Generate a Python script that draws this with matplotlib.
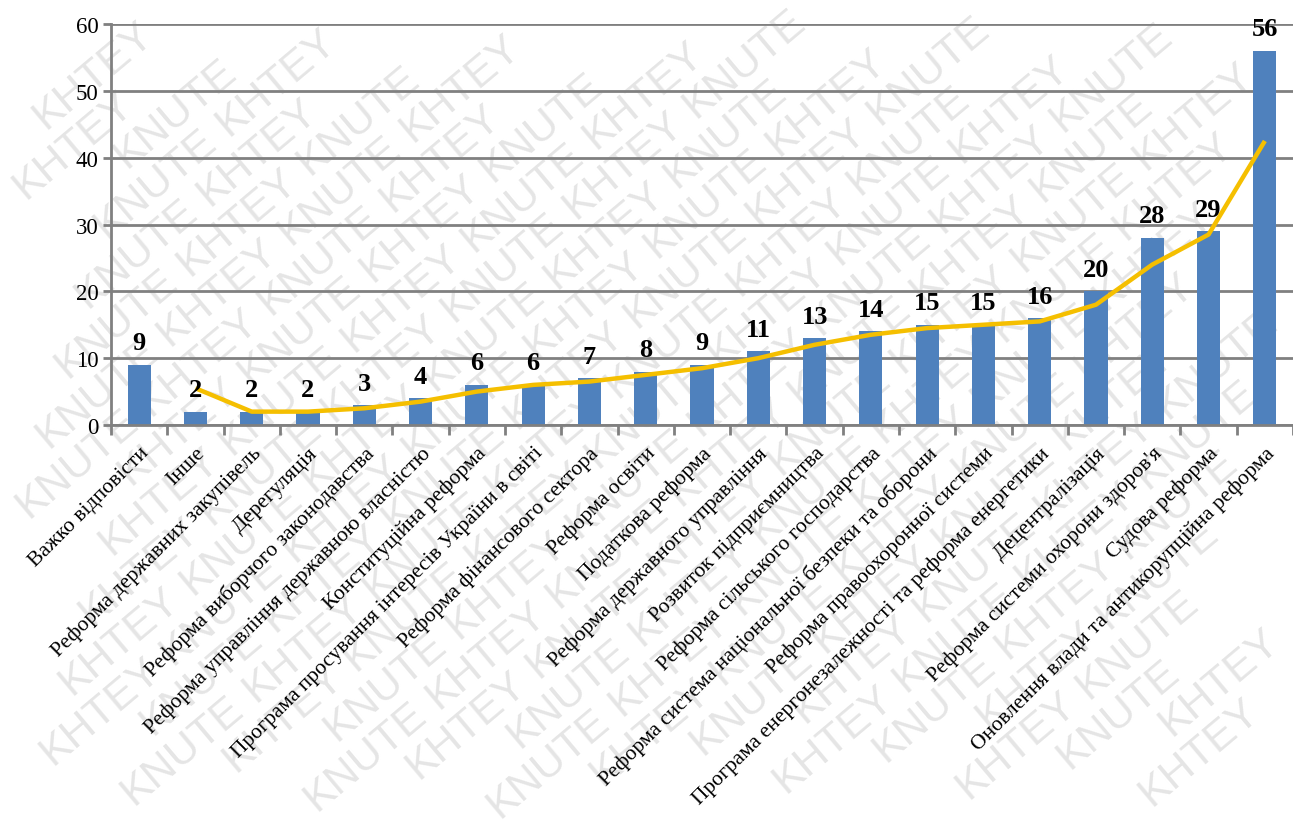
import matplotlib
matplotlib.use('Agg')
import matplotlib.pyplot as plt
import numpy as np

reforms = ['Важко відповісти', 'Інше', 'Реформа державних закупівель', 'Дерегуляція',
           'Реформа виборчого законодавства', 'Реформа управління державною власністю',
           'Конституційна реформа', 'Програма просування інтересів України в світі',
           'Реформа фінансового сектора', 'Реформа освіти', 'Податкова реформа',
           'Реформа державного управління', 'Розвиток підприємництва',
           'Реформа сільського господарства',
           'Реформа система національної безпеки та оборони',
           'Реформа правоохоронної системи',
           'Програма енергонезалежності та реформа енергетики', 'Децентралізація',
           "Реформа системи охорони здоров'я", 'Судова реформа',
           'Оновлення влади та антикорупційна реформа']
votes = [9, 2, 2, 2, 3, 4, 6, 6, 7, 8, 9, 11, 13, 14, 15, 15, 16, 20, 28, 29, 56]
# yellow trend line, starts from the second category
trend = [5.5, 2, 2, 2.5, 3.5, 5, 6, 6.5, 7.5, 8.5, 10, 12, 13.5, 14.5, 15, 15.5,
         18, 24, 28.5, 42.5]
yticks = [0, 10, 20, 30, 40, 50, 60]
marks = ['KNUTE', 'KHTEY']

plt.rcParams['font.family'] = ['Liberation Serif', 'DejaVu Serif']

W, H = 1293, 828
fig = plt.figure(figsize=(W / 100, H / 100), dpi=100)

# watermark: words on diagonal rows, keep only those that fit in the picture
ang_deg = 40
ang = np.deg2rad(ang_deg)
d = np.array([np.cos(ang), np.sin(ang)])
nrm = np.array([-np.sin(ang), np.cos(ang)])
pitch, gap = 158, 41
renderer = fig.canvas.get_renderer()
for r in range(-40, 40):
    for c in range(-14, 16):
        px, py = d * (c * pitch + r * 60) + nrm * r * gap + np.array([W / 2, H / 2])
        if not (-150 < px < W + 150 and -150 < py < H + 150):
            continue
        t = fig.text(px / W, py / H, marks[c % 2], rotation=ang_deg,
                     fontsize=31, color='#e5e5e5', ha='center', va='center',
                     rotation_mode='anchor', zorder=-5, family='Liberation Sans')
        bb = t.get_window_extent(renderer)
        if bb.x0 < 0 or bb.y0 < 0 or bb.x1 > W or bb.y1 > H:
            t.remove()

ax = fig.add_axes([111 / W, (H - 426) / H, (W - 111) / W, 401 / H])
ax.patch.set_alpha(0)

x = np.arange(len(reforms))
ax.bar(x, votes, width=0.41, color='#4F81BD', zorder=2)
ax.plot(x[1:], trend, color='#F5BF00', lw=3.2, zorder=3, solid_capstyle='butt')

for xi, v in zip(x, votes):
    ax.annotate(str(v), (xi, v), xytext=(0, 7.5), textcoords='offset points',
                ha='center', va='bottom', fontsize=19, fontweight='bold', zorder=4)

ax.set_ylim(0, 60)
ax.set_xlim(-0.5, 20.43)
ax.set_yticks(yticks)
ax.yaxis.grid(True, color='#808080', lw=2, zorder=1)
ax.set_axisbelow(True)
ax.tick_params(axis='y', labelsize=16.5, length=6, width=2, color='#808080', pad=3)

ax.set_xticks(x)
ax.set_xticklabels(reforms, rotation=45, ha='right', rotation_mode='anchor', fontsize=15.5)
ax.tick_params(axis='x', length=0, pad=13)
ax.set_xticks(np.arange(-0.5, 21, 1), minor=True)
ax.tick_params(axis='x', which='minor', length=7, width=2, color='#808080')

for s in ['top', 'right']:
    ax.spines[s].set_visible(False)
for s in ['left', 'bottom']:
    ax.spines[s].set_color('#808080')
    ax.spines[s].set_linewidth(2)

fig.savefig('out.png', dpi=100)
